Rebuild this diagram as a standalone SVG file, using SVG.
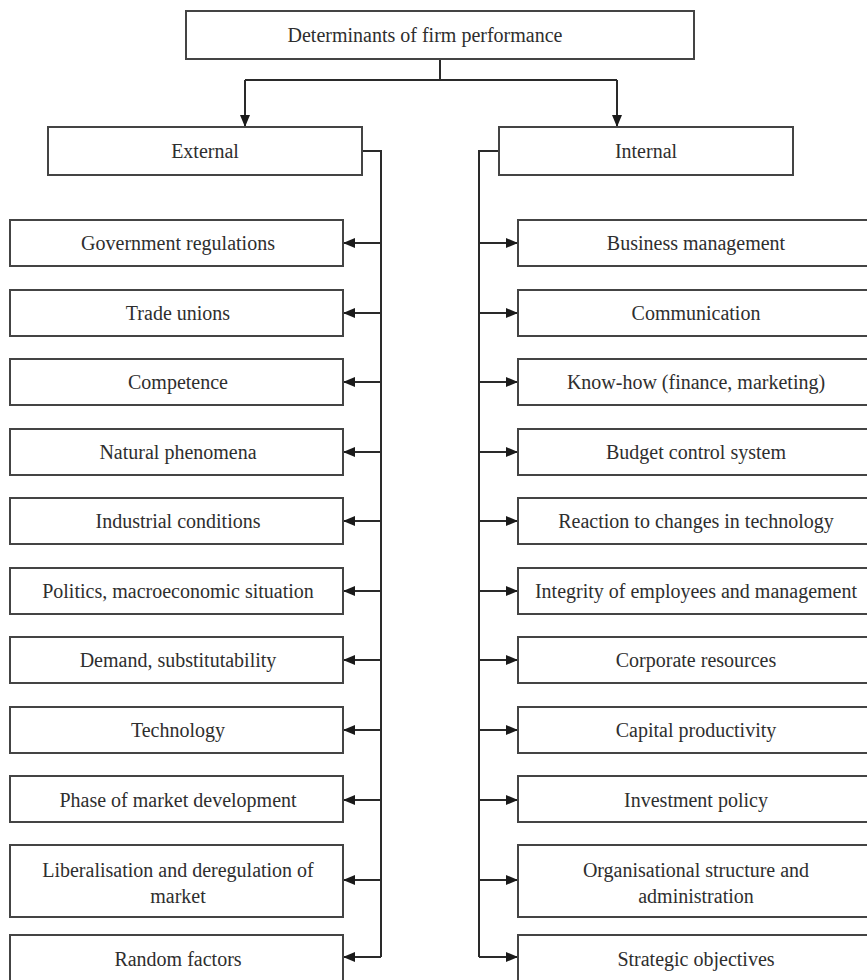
<svg xmlns="http://www.w3.org/2000/svg" width="867" height="980" viewBox="0 0 867 980">
<style>
.box{fill:#fff;stroke:#444;stroke-width:2}
.t{font-family:"Liberation Serif","Times New Roman","DejaVu Serif",serif;font-size:20px;fill:#2e2e2e;text-anchor:middle}
.c{fill:none;stroke:#2a2a2a;stroke-width:2}
</style>
<defs>
<marker id="ah" viewBox="0 0 12 10" refX="12" refY="5" markerWidth="12" markerHeight="10" markerUnits="userSpaceOnUse" orient="auto">
<path d="M0,0 L12,5 L0,10 Z" fill="#1a1a1a"/>
</marker>
</defs>
<rect width="867" height="980" fill="#fff"/>
<g id="connectors">
<path class="c" d="M440,59 V80 M245,80 H617"/>
<path class="c" d="M245,80 V127" marker-end="url(#ah)"/>
<path class="c" d="M617,80 V127" marker-end="url(#ah)"/>
<path class="c" d="M362,151 H381 V957"/>
<path class="c" d="M499,151 H479 V957"/>
<path class="c" d="M381,243 H343" marker-end="url(#ah)"/>
<path class="c" d="M381,313 H343" marker-end="url(#ah)"/>
<path class="c" d="M381,382 H343" marker-end="url(#ah)"/>
<path class="c" d="M381,452 H343" marker-end="url(#ah)"/>
<path class="c" d="M381,521 H343" marker-end="url(#ah)"/>
<path class="c" d="M381,591 H343" marker-end="url(#ah)"/>
<path class="c" d="M381,660 H343" marker-end="url(#ah)"/>
<path class="c" d="M381,730 H343" marker-end="url(#ah)"/>
<path class="c" d="M381,800 H343" marker-end="url(#ah)"/>
<path class="c" d="M381,880 H343" marker-end="url(#ah)"/>
<path class="c" d="M381,957 H343" marker-end="url(#ah)"/>
<path class="c" d="M479,243 H518" marker-end="url(#ah)"/>
<path class="c" d="M479,313 H518" marker-end="url(#ah)"/>
<path class="c" d="M479,382 H518" marker-end="url(#ah)"/>
<path class="c" d="M479,452 H518" marker-end="url(#ah)"/>
<path class="c" d="M479,521 H518" marker-end="url(#ah)"/>
<path class="c" d="M479,591 H518" marker-end="url(#ah)"/>
<path class="c" d="M479,660 H518" marker-end="url(#ah)"/>
<path class="c" d="M479,730 H518" marker-end="url(#ah)"/>
<path class="c" d="M479,800 H518" marker-end="url(#ah)"/>
<path class="c" d="M479,880 H518" marker-end="url(#ah)"/>
<path class="c" d="M479,957 H518" marker-end="url(#ah)"/>
</g>
<g id="root"><rect class="box" x="186" y="11" width="508" height="48"/><text class="t" x="425" y="42">Determinants of firm performance</text></g>
<g id="external"><rect class="box" x="48" y="127" width="314" height="48"/><text class="t" x="205" y="158">External</text></g>
<g id="internal"><rect class="box" x="499" y="127" width="294" height="48"/><text class="t" x="646" y="158">Internal</text></g>

<g id="e1"><rect class="box" x="10" y="220" width="333" height="46"/><text class="t" x="178" y="250">Government regulations</text></g>
<g id="e2"><rect class="box" x="10" y="290" width="333" height="46"/><text class="t" x="178" y="320">Trade unions</text></g>
<g id="e3"><rect class="box" x="10" y="359" width="333" height="46"/><text class="t" x="178" y="389">Competence</text></g>
<g id="e4"><rect class="box" x="10" y="429" width="333" height="46"/><text class="t" x="178" y="459">Natural phenomena</text></g>
<g id="e5"><rect class="box" x="10" y="498" width="333" height="46"/><text class="t" x="178" y="528">Industrial conditions</text></g>
<g id="e6"><rect class="box" x="10" y="568" width="333" height="46"/><text class="t" x="178" y="598">Politics, macroeconomic situation</text></g>
<g id="e7"><rect class="box" x="10" y="637" width="333" height="46"/><text class="t" x="178" y="667">Demand, substitutability</text></g>
<g id="e8"><rect class="box" x="10" y="707" width="333" height="46"/><text class="t" x="178" y="737">Technology</text></g>
<g id="e9"><rect class="box" x="10" y="776" width="333" height="46"/><text class="t" x="178" y="807">Phase of market development</text></g>
<g id="e10"><rect class="box" x="10" y="845" width="333" height="72"/><text class="t" x="178" y="877">Liberalisation and deregulation of</text><text class="t" x="178" y="903">market</text></g>
<g id="e11"><rect class="box" x="10" y="935" width="333" height="46"/><text class="t" x="178" y="966">Random factors</text></g>

<g id="i1"><rect class="box" x="518" y="220" width="360" height="46"/><text class="t" x="696" y="250">Business management</text></g>
<g id="i2"><rect class="box" x="518" y="290" width="360" height="46"/><text class="t" x="696" y="320">Communication</text></g>
<g id="i3"><rect class="box" x="518" y="359" width="360" height="46"/><text class="t" x="696" y="389">Know-how (finance, marketing)</text></g>
<g id="i4"><rect class="box" x="518" y="429" width="360" height="46"/><text class="t" x="696" y="459">Budget control system</text></g>
<g id="i5"><rect class="box" x="518" y="498" width="360" height="46"/><text class="t" x="696" y="528">Reaction to changes in technology</text></g>
<g id="i6"><rect class="box" x="518" y="568" width="360" height="46"/><text class="t" x="696" y="598">Integrity of employees and management</text></g>
<g id="i7"><rect class="box" x="518" y="637" width="360" height="46"/><text class="t" x="696" y="667">Corporate resources</text></g>
<g id="i8"><rect class="box" x="518" y="707" width="360" height="46"/><text class="t" x="696" y="737">Capital productivity</text></g>
<g id="i9"><rect class="box" x="518" y="776" width="360" height="46"/><text class="t" x="696" y="807">Investment policy</text></g>
<g id="i10"><rect class="box" x="518" y="845" width="360" height="72"/><text class="t" x="696" y="877">Organisational structure and</text><text class="t" x="696" y="903">administration</text></g>
<g id="i11"><rect class="box" x="518" y="935" width="360" height="46"/><text class="t" x="696" y="966">Strategic objectives</text></g>
</svg>
